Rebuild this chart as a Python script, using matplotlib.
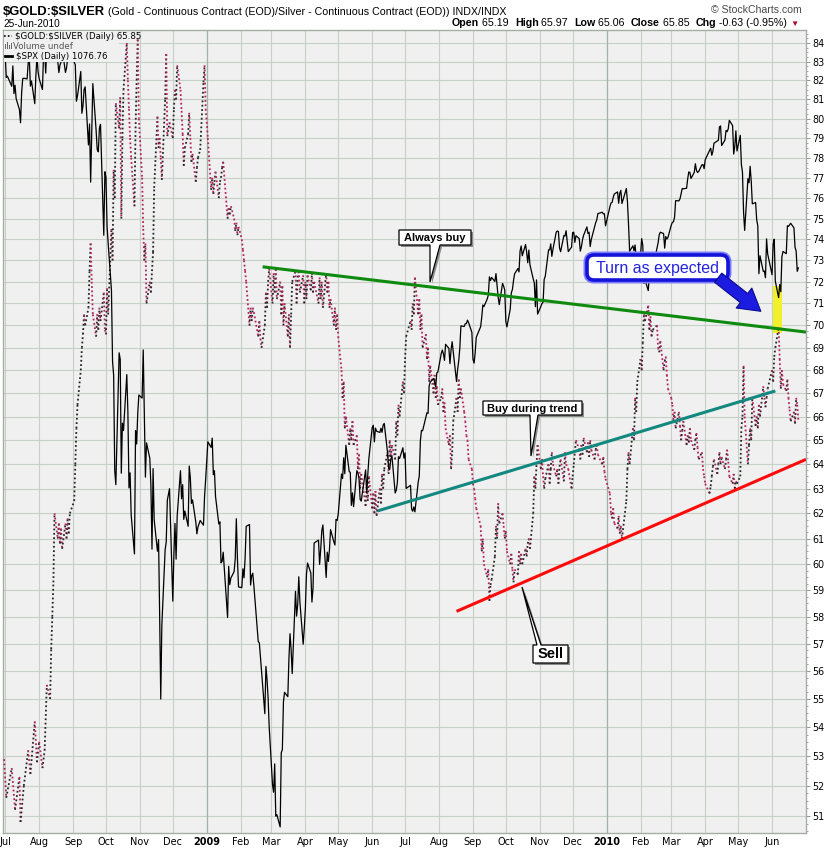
import matplotlib
matplotlib.use("Agg")
import matplotlib.pyplot as plt
import matplotlib.dates as mdates
import numpy as np
import pandas as pd
from matplotlib.collections import LineCollection
from matplotlib.patches import Polygon, Rectangle, FancyBboxPatch, FancyArrowPatch
from matplotlib.lines import Line2D
from matplotlib.ticker import FixedLocator, NullFormatter, FuncFormatter
from matplotlib.transforms import Affine2D

plt.rcParams["text.parse_math"] = False

W, H = 825, 848

# $GOLD:$SILVER close, (month-day, value)
ratio_2008 = [
    ("06-30", 52.9), ("07-02", 51.6), ("07-07", 52.6), ("07-10", 51.2), ("07-14", 52.3), ("07-15", 50.8),
    ("07-18", 52.0), ("07-22", 53.2), ("07-24", 52.4), ("07-28", 54.2), ("07-30", 52.8), ("08-01", 53.5),
    ("08-04", 52.6), ("08-06", 53.2), ("08-08", 55.5), ("08-11", 55.0), ("08-12", 56.8), ("08-13", 58.0),
    ("08-14", 59.3), ("08-15", 62.0), ("08-18", 61.0), ("08-19", 61.6), ("08-20", 60.8), ("08-21", 61.4),
    ("08-22", 60.6), ("08-25", 61.6), ("08-26", 61.0), ("08-27", 61.8), ("08-28", 61.2), ("08-29", 62.0),
    ("09-02", 62.5), ("09-03", 64.0), ("09-04", 65.5), ("09-05", 66.5), ("09-08", 68.0), ("09-09", 69.0),
    ("09-10", 69.6), ("09-11", 70.5), ("09-12", 70.0), ("09-15", 70.8), ("09-16", 72.5), ("09-17", 73.8),
    ("09-18", 72.0), ("09-19", 70.5), ("09-22", 69.5), ("09-23", 70.5), ("09-24", 69.8), ("09-25", 70.8),
    ("09-26", 70.2), ("09-29", 71.5), ("09-30", 69.8), ("10-01", 69.6), ("10-02", 71.7), ("10-03", 70.5),
    ("10-06", 74.5), ("10-07", 73.0), ("10-08", 77.4), ("10-09", 76.0), ("10-10", 80.8), ("10-13", 79.5),
    ("10-14", 81.1), ("10-15", 75.0), ("10-16", 79.0), ("10-17", 81.5), ("10-20", 84.0), ("10-21", 82.0),
    ("10-22", 80.5), ("10-23", 79.0), ("10-24", 78.0), ("10-27", 75.6), ("10-28", 79.5), ("10-29", 82.0),
    ("10-30", 84.2), ("10-31", 80.0), ("11-03", 77.0), ("11-04", 74.5), ("11-05", 73.0), ("11-06", 73.8),
    ("11-07", 71.0), ("11-10", 72.0), ("11-11", 71.5), ("11-12", 72.5), ("11-13", 73.4), ("11-14", 76.5),
    ("11-17", 80.1), ("11-18", 78.5), ("11-19", 79.0), ("11-20", 78.0), ("11-21", 76.9), ("11-24", 81.0),
    ("11-25", 83.4), ("11-26", 79.1), ("11-28", 79.8), ("12-01", 79.0), ("12-02", 80.5), ("12-03", 81.5),
    ("12-04", 81.0), ("12-05", 82.8), ("12-08", 81.5), ("12-09", 80.4), ("12-10", 79.2), ("12-11", 77.6),
    ("12-12", 78.5), ("12-15", 79.2), ("12-16", 80.3), ("12-17", 79.0), ("12-18", 77.8), ("12-19", 78.2),
    ("12-22", 76.8), ("12-23", 77.5), ("12-24", 78.0), ("12-26", 78.4), ("12-29", 81.9), ("12-30", 82.8),
    ("12-31", 80.5),
]
ratio_2009 = [
    ("01-02", 79.0), ("01-05", 76.4), ("01-06", 77.0), ("01-07", 76.2), ("01-08", 76.8), ("01-09", 77.3),
    ("01-12", 76.0), ("01-13", 76.8), ("01-14", 77.0), ("01-15", 77.5), ("01-16", 77.8), ("01-20", 75.0),
    ("01-21", 75.5), ("01-22", 75.2), ("01-23", 75.6), ("01-26", 75.0), ("01-27", 74.4), ("01-28", 74.8),
    ("01-29", 74.2), ("01-30", 74.6), ("02-02", 74.0), ("02-03", 73.5), ("02-04", 73.0), ("02-05", 72.5),
    ("02-06", 72.0), ("02-09", 70.0), ("02-10", 70.8), ("02-11", 70.2), ("02-12", 70.8), ("02-13", 70.6),
    ("02-17", 69.5), ("02-18", 70.2), ("02-19", 69.4), ("02-20", 69.0), ("02-23", 70.0), ("02-24", 71.5),
    ("02-25", 70.8), ("02-26", 72.0), ("02-27", 72.6), ("03-02", 71.0), ("03-03", 72.4), ("03-04", 71.5),
    ("03-05", 72.6), ("03-06", 71.2), ("03-09", 72.0), ("03-10", 70.5), ("03-11", 71.8), ("03-12", 70.0),
    ("03-13", 71.0), ("03-16", 69.5), ("03-17", 70.5), ("03-18", 69.0), ("03-19", 70.5), ("03-20", 72.0),
    ("03-23", 72.5), ("03-24", 71.0), ("03-25", 72.2), ("03-26", 72.5), ("03-27", 71.5), ("03-30", 72.3),
    ("03-31", 71.0), ("04-01", 72.0), ("04-02", 71.2), ("04-03", 72.3), ("04-06", 71.6), ("04-07", 72.4),
    ("04-08", 71.5), ("04-09", 72.0), ("04-13", 71.0), ("04-14", 72.2), ("04-15", 71.2), ("04-16", 72.0),
    ("04-17", 70.8), ("04-20", 72.4), ("04-21", 71.5), ("04-22", 72.0), ("04-23", 70.8), ("04-24", 71.2),
    ("04-27", 70.0), ("04-28", 70.8), ("04-29", 69.8), ("04-30", 70.5), ("05-01", 69.5), ("05-04", 68.0),
    ("05-05", 66.8), ("05-06", 67.5), ("05-07", 65.5), ("05-08", 66.0), ("05-11", 64.8), ("05-12", 65.5),
    ("05-13", 65.0), ("05-14", 65.8), ("05-15", 64.8), ("05-18", 65.2), ("05-19", 63.8), ("05-20", 64.4),
    ("05-21", 63.0), ("05-22", 63.6), ("05-26", 62.3), ("05-27", 63.2), ("05-28", 62.5), ("05-29", 63.5),
    ("06-01", 62.2), ("06-02", 62.8), ("06-03", 62.0), ("06-04", 62.9), ("06-05", 61.9), ("06-08", 63.0),
    ("06-09", 62.4), ("06-10", 63.6), ("06-11", 63.0), ("06-12", 63.8), ("06-15", 64.5), ("06-16", 63.6),
    ("06-17", 65.0), ("06-18", 64.3), ("06-19", 64.8), ("06-22", 64.2), ("06-23", 65.8), ("06-24", 65.2),
    ("06-25", 66.5), ("06-26", 66.0), ("06-29", 67.5), ("06-30", 67.0), ("07-01", 68.5), ("07-02", 69.5),
    ("07-06", 70.2), ("07-07", 69.8), ("07-08", 71.0), ("07-09", 70.5), ("07-10", 72.2), ("07-13", 70.5),
    ("07-14", 71.2), ("07-15", 69.8), ("07-16", 70.5), ("07-17", 69.0), ("07-20", 69.6), ("07-21", 68.5),
    ("07-22", 69.0), ("07-23", 67.5), ("07-24", 68.2), ("07-27", 67.0), ("07-28", 67.8), ("07-29", 66.8),
    ("07-30", 67.3), ("07-31", 66.5), ("08-03", 66.8), ("08-04", 67.2), ("08-05", 66.2), ("08-06", 66.6),
    ("08-07", 65.5), ("08-10", 64.8), ("08-11", 65.2), ("08-12", 63.8), ("08-13", 64.5), ("08-14", 65.8),
    ("08-17", 66.8), ("08-18", 66.2), ("08-19", 67.6), ("08-20", 66.8), ("08-21", 67.2), ("08-24", 66.2),
    ("08-25", 65.8), ("08-26", 65.2), ("08-27", 65.0), ("08-28", 64.2), ("08-31", 63.8), ("09-01", 63.2),
    ("09-02", 63.0), ("09-03", 62.6), ("09-04", 62.2), ("09-08", 61.5), ("09-09", 60.5), ("09-10", 61.0),
    ("09-11", 60.0), ("09-14", 59.5), ("09-15", 59.8), ("09-16", 58.6), ("09-17", 59.2), ("09-18", 59.4),
    ("09-21", 60.3), ("09-22", 61.5), ("09-23", 61.0), ("09-24", 62.4), ("09-25", 61.6), ("09-28", 62.0),
    ("09-29", 61.5), ("09-30", 61.0), ("10-01", 61.3), ("10-02", 60.5), ("10-05", 60.0), ("10-06", 60.4),
    ("10-07", 59.8), ("10-08", 59.3), ("10-09", 59.8), ("10-12", 59.6), ("10-13", 60.5), ("10-14", 60.0),
    ("10-15", 60.4), ("10-16", 60.0), ("10-19", 60.6), ("10-20", 60.3), ("10-21", 60.8), ("10-22", 61.0),
    ("10-23", 60.6), ("10-26", 62.0), ("10-27", 63.5), ("10-28", 63.0), ("10-29", 64.0), ("10-30", 64.8),
    ("11-02", 63.8), ("11-03", 64.2), ("11-04", 63.5), ("11-05", 63.0), ("11-06", 63.4), ("11-09", 64.0),
    ("11-10", 63.2), ("11-11", 63.8), ("11-12", 64.5), ("11-13", 64.0), ("11-16", 63.5), ("11-17", 63.8),
    ("11-18", 63.2), ("11-19", 63.9), ("11-20", 64.2), ("11-23", 63.3), ("11-24", 64.5), ("11-25", 64.0),
    ("11-27", 63.8), ("11-30", 63.0), ("12-01", 63.5), ("12-02", 64.0), ("12-03", 64.5), ("12-04", 65.0),
    ("12-07", 64.6), ("12-08", 64.2), ("12-09", 64.8), ("12-10", 64.4), ("12-11", 65.1), ("12-14", 64.5),
    ("12-15", 64.9), ("12-16", 64.3), ("12-17", 65.0), ("12-18", 64.6), ("12-21", 64.2), ("12-22", 64.6),
    ("12-23", 64.8), ("12-24", 64.4), ("12-28", 64.0), ("12-29", 64.3), ("12-30", 63.7), ("12-31", 63.4),
]
ratio_2010 = [
    ("01-04", 62.8), ("01-05", 62.0), ("01-06", 61.8), ("01-07", 62.2), ("01-08", 61.6), ("01-11", 61.4),
    ("01-12", 61.9), ("01-13", 61.2), ("01-14", 61.5), ("01-15", 61.0), ("01-19", 62.5), ("01-20", 63.8),
    ("01-21", 64.5), ("01-22", 64.0), ("01-25", 65.5), ("01-26", 65.0), ("01-27", 66.8), ("01-28", 66.2),
    ("01-29", 67.5), ("02-01", 68.5), ("02-02", 68.0), ("02-03", 69.2), ("02-04", 70.5), ("02-05", 70.2),
    ("02-08", 70.9), ("02-09", 69.8), ("02-10", 70.4), ("02-11", 69.5), ("02-12", 69.8), ("02-16", 70.0),
    ("02-17", 69.0), ("02-18", 68.8), ("02-19", 69.3), ("02-22", 68.0), ("02-23", 68.4), ("02-24", 68.6),
    ("02-25", 67.8), ("02-26", 67.2), ("03-01", 66.8), ("03-02", 66.5), ("03-03", 65.8), ("03-04", 66.2),
    ("03-05", 65.5), ("03-08", 66.2), ("03-09", 65.6), ("03-10", 65.0), ("03-11", 65.4), ("03-12", 65.8),
    ("03-15", 64.8), ("03-16", 65.2), ("03-17", 64.9), ("03-18", 65.5), ("03-19", 65.0), ("03-22", 64.6),
    ("03-23", 65.0), ("03-24", 65.3), ("03-25", 64.7), ("03-26", 64.2), ("03-29", 64.5), ("03-30", 63.8),
    ("03-31", 63.5), ("04-01", 63.2), ("04-05", 62.8), ("04-06", 63.1), ("04-07", 63.5), ("04-08", 63.9),
    ("04-09", 64.2), ("04-12", 63.6), ("04-13", 64.0), ("04-14", 64.5), ("04-15", 64.0), ("04-16", 64.3),
    ("04-19", 63.8), ("04-20", 64.2), ("04-21", 64.6), ("04-22", 64.1), ("04-23", 63.5), ("04-26", 63.2),
    ("04-27", 63.6), ("04-28", 63.0), ("04-29", 63.3), ("04-30", 63.2), ("05-03", 63.5), ("05-04", 65.5),
    ("05-05", 66.0), ("05-06", 68.2), ("05-07", 66.0), ("05-10", 64.0), ("05-11", 64.8), ("05-12", 65.5),
    ("05-13", 65.0), ("05-14", 66.8), ("05-17", 65.6), ("05-18", 66.0), ("05-19", 65.5), ("05-20", 66.5),
    ("05-21", 66.0), ("05-24", 67.3), ("05-25", 66.8), ("05-26", 66.4), ("05-27", 66.8), ("05-28", 67.2),
    ("06-01", 68.0), ("06-02", 67.5), ("06-03", 68.6), ("06-04", 69.0), ("06-07", 69.9), ("06-08", 68.5),
    ("06-09", 67.2), ("06-10", 68.0), ("06-11", 67.4), ("06-14", 67.1), ("06-15", 67.6), ("06-16", 66.8),
    ("06-17", 66.3), ("06-18", 65.8), ("06-21", 66.2), ("06-22", 65.7), ("06-23", 66.8), ("06-24", 66.5),
    ("06-25", 65.85),
]

# $SPX daily close, overlaid on its own (hidden) log scale
spx_2008 = [
    ("07-01", 1284.9), ("07-02", 1261.5), ("07-03", 1262.9), ("07-07", 1252.3), ("07-08", 1273.7), ("07-09", 1244.7),
    ("07-10", 1253.4), ("07-11", 1239.5), ("07-14", 1228.3), ("07-15", 1214.9), ("07-16", 1245.4), ("07-17", 1260.3),
    ("07-18", 1260.7), ("07-21", 1260.0), ("07-22", 1277.0), ("07-23", 1282.2), ("07-24", 1252.5), ("07-25", 1257.8),
    ("07-28", 1234.4), ("07-29", 1263.2), ("07-30", 1284.3), ("07-31", 1267.4), ("08-01", 1260.3), ("08-04", 1249.0),
    ("08-05", 1284.9), ("08-06", 1289.2), ("08-07", 1266.1), ("08-08", 1296.3), ("08-11", 1305.3), ("08-12", 1289.6),
    ("08-13", 1285.8), ("08-14", 1292.9), ("08-15", 1298.2), ("08-18", 1278.6), ("08-19", 1266.7), ("08-20", 1274.5),
    ("08-21", 1277.7), ("08-22", 1292.2), ("08-25", 1266.8), ("08-26", 1271.5), ("08-27", 1281.7), ("08-28", 1300.7),
    ("08-29", 1282.8), ("09-02", 1277.6), ("09-03", 1275.0), ("09-04", 1236.8), ("09-05", 1242.3), ("09-08", 1267.8),
    ("09-09", 1224.5), ("09-10", 1232.0), ("09-11", 1249.0), ("09-12", 1251.7), ("09-15", 1192.7), ("09-16", 1213.6),
    ("09-17", 1156.4), ("09-18", 1206.5), ("09-19", 1255.1), ("09-22", 1207.1), ("09-23", 1188.2), ("09-24", 1185.9),
    ("09-25", 1209.2), ("09-26", 1213.3), ("09-29", 1106.4), ("09-30", 1166.4), ("10-01", 1161.1), ("10-02", 1114.3),
    ("10-03", 1099.2), ("10-06", 1056.9), ("10-07", 996.2), ("10-08", 984.9), ("10-09", 909.9), ("10-10", 899.2),
    ("10-13", 1003.4), ("10-14", 998.0), ("10-15", 907.8), ("10-16", 946.4), ("10-17", 940.6), ("10-20", 985.4),
    ("10-21", 955.1), ("10-22", 896.8), ("10-23", 908.1), ("10-24", 876.8), ("10-27", 848.9), ("10-28", 940.5),
    ("10-29", 930.1), ("10-30", 954.1), ("10-31", 968.8), ("11-03", 966.3), ("11-04", 1005.8), ("11-05", 952.8),
    ("11-06", 904.9), ("11-07", 931.0), ("11-10", 919.2), ("11-11", 899.0), ("11-12", 852.3), ("11-13", 911.3),
    ("11-14", 873.3), ("11-17", 850.8), ("11-18", 859.1), ("11-19", 806.6), ("11-20", 752.4), ("11-21", 800.0),
    ("11-24", 851.8), ("11-25", 857.4), ("11-26", 887.7), ("11-28", 896.2), ("12-01", 816.2), ("12-02", 848.8),
    ("12-03", 870.7), ("12-04", 845.2), ("12-05", 876.1), ("12-08", 909.7), ("12-09", 888.7), ("12-10", 899.2),
    ("12-11", 873.6), ("12-12", 879.7), ("12-15", 868.6), ("12-16", 913.2), ("12-17", 904.4), ("12-18", 885.3),
    ("12-19", 887.9), ("12-22", 871.6), ("12-23", 863.2), ("12-24", 868.2), ("12-26", 872.8), ("12-29", 869.4),
    ("12-30", 890.6), ("12-31", 903.3),
]
spx_2009 = [
    ("01-02", 931.8), ("01-05", 927.5), ("01-06", 934.7), ("01-07", 906.7), ("01-08", 909.7), ("01-09", 890.4),
    ("01-12", 870.3), ("01-13", 871.8), ("01-14", 842.6), ("01-15", 843.7), ("01-16", 850.1), ("01-20", 805.2),
    ("01-21", 840.2), ("01-22", 827.5), ("01-23", 832.0), ("01-26", 836.6), ("01-27", 845.7), ("01-28", 874.1),
    ("01-29", 845.1), ("01-30", 825.9), ("02-02", 825.4), ("02-03", 838.5), ("02-04", 832.2), ("02-05", 845.9),
    ("02-06", 868.6), ("02-09", 869.9), ("02-10", 827.2), ("02-11", 833.7), ("02-12", 835.4), ("02-13", 826.8),
    ("02-17", 789.2), ("02-18", 788.4), ("02-19", 778.9), ("02-20", 770.1), ("02-23", 743.3), ("02-24", 773.1),
    ("02-25", 764.9), ("02-26", 752.8), ("02-27", 735.1), ("03-02", 700.8), ("03-03", 696.3), ("03-04", 712.9),
    ("03-05", 682.6), ("03-06", 683.4), ("03-09", 676.5), ("03-10", 719.6), ("03-11", 721.4), ("03-12", 750.7),
    ("03-13", 756.6), ("03-16", 753.9), ("03-17", 778.1), ("03-18", 794.4), ("03-19", 784.0), ("03-20", 768.5),
    ("03-23", 822.9), ("03-24", 806.1), ("03-25", 813.9), ("03-26", 832.9), ("03-27", 815.9), ("03-30", 787.5),
    ("03-31", 797.9), ("04-01", 811.1), ("04-02", 834.4), ("04-03", 842.5), ("04-06", 835.5), ("04-07", 815.6),
    ("04-08", 825.2), ("04-09", 856.6), ("04-13", 858.7), ("04-14", 841.5), ("04-15", 852.1), ("04-16", 865.3),
    ("04-17", 869.6), ("04-20", 832.4), ("04-21", 850.1), ("04-22", 843.6), ("04-23", 851.9), ("04-24", 866.2),
    ("04-27", 857.5), ("04-28", 855.2), ("04-29", 873.6), ("04-30", 872.8), ("05-01", 877.5), ("05-04", 907.2),
    ("05-05", 903.8), ("05-06", 919.5), ("05-07", 907.4), ("05-08", 929.2), ("05-11", 909.2), ("05-12", 908.4),
    ("05-13", 883.9), ("05-14", 893.1), ("05-15", 882.9), ("05-18", 909.7), ("05-19", 908.1), ("05-20", 903.5),
    ("05-21", 888.3), ("05-22", 887.0), ("05-26", 910.3), ("05-27", 893.1), ("05-28", 906.8), ("05-29", 919.1),
    ("06-01", 942.9), ("06-02", 944.7), ("06-03", 931.8), ("06-04", 942.5), ("06-05", 940.1), ("06-08", 939.1),
    ("06-09", 942.4), ("06-10", 939.2), ("06-11", 944.9), ("06-12", 946.2), ("06-15", 923.7), ("06-16", 912.0),
    ("06-17", 910.7), ("06-18", 918.4), ("06-19", 921.2), ("06-22", 893.0), ("06-23", 895.1), ("06-24", 900.9),
    ("06-25", 920.3), ("06-26", 918.9), ("06-29", 927.2), ("06-30", 919.3), ("07-01", 923.3), ("07-02", 896.4),
    ("07-06", 898.7), ("07-07", 881.0), ("07-08", 879.6), ("07-09", 882.7), ("07-10", 879.1), ("07-13", 901.1),
    ("07-14", 905.8), ("07-15", 932.7), ("07-16", 940.7), ("07-17", 940.4), ("07-20", 951.1), ("07-21", 954.6),
    ("07-22", 954.1), ("07-23", 976.3), ("07-24", 979.3), ("07-27", 982.2), ("07-28", 979.6), ("07-29", 975.2),
    ("07-30", 986.8), ("07-31", 987.5), ("08-03", 1002.6), ("08-04", 1005.7), ("08-05", 1002.7), ("08-06", 997.1),
    ("08-07", 1010.5), ("08-10", 1007.1), ("08-11", 994.4), ("08-12", 1005.8), ("08-13", 1012.7), ("08-14", 1004.1),
    ("08-17", 979.7), ("08-18", 989.7), ("08-19", 996.5), ("08-20", 1007.4), ("08-21", 1026.1), ("08-24", 1025.6),
    ("08-25", 1028.0), ("08-26", 1028.1), ("08-27", 1031.0), ("08-28", 1028.9), ("08-31", 1020.6), ("09-01", 998.0),
    ("09-02", 994.8), ("09-03", 1003.2), ("09-04", 1016.4), ("09-08", 1025.4), ("09-09", 1033.4), ("09-10", 1044.1),
    ("09-11", 1042.7), ("09-14", 1049.3), ("09-15", 1052.6), ("09-16", 1068.8), ("09-17", 1065.5), ("09-18", 1068.3),
    ("09-21", 1064.7), ("09-22", 1071.7), ("09-23", 1060.9), ("09-24", 1050.8), ("09-25", 1044.4), ("09-28", 1063.0),
    ("09-29", 1060.6), ("09-30", 1057.1), ("10-01", 1029.9), ("10-02", 1025.2), ("10-05", 1040.5), ("10-06", 1054.7),
    ("10-07", 1057.6), ("10-08", 1065.5), ("10-09", 1071.5), ("10-12", 1076.2), ("10-13", 1073.2), ("10-14", 1092.0),
    ("10-15", 1096.6), ("10-16", 1087.7), ("10-19", 1097.9), ("10-20", 1091.1), ("10-21", 1081.4), ("10-22", 1092.9),
    ("10-23", 1079.6), ("10-26", 1067.0), ("10-27", 1063.4), ("10-28", 1042.6), ("10-29", 1066.1), ("10-30", 1036.2),
    ("11-02", 1042.9), ("11-03", 1045.4), ("11-04", 1046.5), ("11-05", 1066.6), ("11-06", 1069.3), ("11-09", 1093.1),
    ("11-10", 1093.0), ("11-11", 1098.5), ("11-12", 1087.2), ("11-13", 1093.5), ("11-16", 1109.3), ("11-17", 1110.3),
    ("11-18", 1109.8), ("11-19", 1094.9), ("11-20", 1091.4), ("11-23", 1106.2), ("11-24", 1105.7), ("11-25", 1110.6),
    ("11-27", 1091.5), ("11-30", 1095.6), ("12-01", 1108.9), ("12-02", 1109.2), ("12-03", 1099.9), ("12-04", 1106.0),
    ("12-07", 1103.3), ("12-08", 1091.9), ("12-09", 1096.0), ("12-10", 1102.4), ("12-11", 1106.4), ("12-14", 1114.1),
    ("12-15", 1107.9), ("12-16", 1109.2), ("12-17", 1096.1), ("12-18", 1102.5), ("12-21", 1114.1), ("12-22", 1118.0),
    ("12-23", 1120.6), ("12-24", 1126.5), ("12-28", 1127.8), ("12-29", 1126.2), ("12-30", 1126.4), ("12-31", 1115.1),
]
spx_2010 = [
    ("01-04", 1133.0), ("01-05", 1136.5), ("01-06", 1137.1), ("01-07", 1141.7), ("01-08", 1145.0), ("01-11", 1147.0),
    ("01-12", 1136.2), ("01-13", 1145.7), ("01-14", 1148.5), ("01-15", 1136.0), ("01-19", 1150.2), ("01-20", 1138.0),
    ("01-21", 1116.5), ("01-22", 1091.8), ("01-25", 1096.8), ("01-26", 1092.2), ("01-27", 1097.5), ("01-28", 1084.5),
    ("01-29", 1073.9), ("02-01", 1089.2), ("02-02", 1103.3), ("02-03", 1097.3), ("02-04", 1063.1), ("02-05", 1066.2),
    ("02-08", 1056.7), ("02-09", 1070.5), ("02-10", 1068.1), ("02-11", 1078.5), ("02-12", 1075.5), ("02-16", 1094.9),
    ("02-17", 1099.5), ("02-18", 1106.8), ("02-19", 1109.2), ("02-22", 1108.0), ("02-23", 1094.6), ("02-24", 1105.2),
    ("02-25", 1102.9), ("02-26", 1104.5), ("03-01", 1115.7), ("03-02", 1118.3), ("03-03", 1118.8), ("03-04", 1123.0),
    ("03-05", 1138.7), ("03-08", 1138.5), ("03-09", 1140.5), ("03-10", 1145.6), ("03-11", 1150.2), ("03-12", 1150.0),
    ("03-15", 1150.5), ("03-16", 1159.5), ("03-17", 1166.2), ("03-18", 1165.8), ("03-19", 1159.9), ("03-22", 1165.8),
    ("03-23", 1174.2), ("03-24", 1167.7), ("03-25", 1165.7), ("03-26", 1166.6), ("03-29", 1173.2), ("03-30", 1173.3),
    ("03-31", 1169.4), ("04-01", 1178.1), ("04-05", 1187.4), ("04-06", 1189.4), ("04-07", 1182.5), ("04-08", 1186.4),
    ("04-09", 1194.4), ("04-12", 1196.5), ("04-13", 1197.3), ("04-14", 1210.7), ("04-15", 1211.7), ("04-16", 1192.1),
    ("04-19", 1197.5), ("04-20", 1207.2), ("04-21", 1205.9), ("04-22", 1208.7), ("04-23", 1217.3), ("04-26", 1212.1),
    ("04-27", 1183.7), ("04-28", 1191.4), ("04-29", 1206.8), ("04-30", 1186.7), ("05-03", 1202.3), ("05-04", 1173.6),
    ("05-05", 1165.9), ("05-06", 1128.2), ("05-07", 1110.9), ("05-10", 1159.7), ("05-11", 1155.8), ("05-12", 1171.7),
    ("05-13", 1157.4), ("05-14", 1135.7), ("05-17", 1136.9), ("05-18", 1120.8), ("05-19", 1115.1), ("05-20", 1071.6),
    ("05-21", 1087.7), ("05-24", 1073.7), ("05-25", 1074.0), ("05-26", 1068.0), ("05-27", 1103.1), ("05-28", 1089.4),
    ("06-01", 1070.7), ("06-02", 1098.4), ("06-03", 1102.8), ("06-04", 1064.9), ("06-07", 1050.5), ("06-08", 1062.0),
    ("06-09", 1055.7), ("06-10", 1086.8), ("06-11", 1091.6), ("06-14", 1089.6), ("06-15", 1115.2), ("06-16", 1114.6),
    ("06-17", 1116.0), ("06-18", 1117.5), ("06-21", 1113.2), ("06-22", 1095.3), ("06-23", 1092.0), ("06-24", 1073.7),
    ("06-25", 1076.8),
]

ratio_ticks = list(range(51, 85))
month_labels = ["Jul", "Aug", "Sep", "Oct", "Nov", "Dec", "2009", "Feb", "Mar", "Apr", "May", "Jun",
                "Jul", "Aug", "Sep", "Oct", "Nov", "Dec", "2010", "Feb", "Mar", "Apr", "May", "Jun"]

# hand-drawn trend lines on the ratio: (start date, value, end date, value)
trend_always_buy = ("2009-02-21", 72.7, "2010-07-02", 69.7)
trend_buy_during = ("2009-06-06", 62.1, "2010-06-04", 67.1)
trend_sell = ("2009-08-17", 58.2, "2010-07-02", 64.2)
# yellow highlight: (start, end, low, high)
highlight = ("2010-06-02", "2010-06-10", 69.65, 71.8)


def to_series(*years):
    dates, vals = [], []
    for year, rows in years:
        for md, v in rows:
            dates.append(pd.Timestamp(f"{year}-{md}"))
            vals.append(v)
    return dates, np.array(vals)


ratio_dates, ratio_vals = to_series((2008, ratio_2008), (2009, ratio_2009), (2010, ratio_2010))
spx_dates, spx_vals = to_series((2008, spx_2008), (2009, spx_2009), (2010, spx_2010))
month_starts = pd.date_range("2008-07-01", "2010-06-01", freq="MS")

fig = plt.figure(figsize=(W / 100, H / 100), dpi=100)
fig.patch.set_facecolor("white")
pix = Affine2D().scale(1 / W, -1 / H).translate(0, 1) + fig.transFigure
renderer = fig.canvas.get_renderer()

ax = fig.add_axes([3 / W, 1 - 833 / H, 803 / W, 803 / H])
ax2 = ax.twinx()
ax.set_facecolor("#f0f0f0")
ax.set_yscale("log")
ax.set_axisbelow(True)

# grid
ax.yaxis.set_major_locator(FixedLocator(ratio_ticks))
ax.yaxis.set_major_formatter(FuncFormatter(lambda v, _: f"{v:.0f}"))
ax.yaxis.set_minor_locator(FixedLocator(np.arange(50.5, 85, 0.25)))
ax.yaxis.set_minor_formatter(NullFormatter())
ax.yaxis.tick_right()
ax.set_xticks(month_starts)
ax.set_xticklabels(month_labels)
ax.grid(True, which="major", color="#c6d0c6", lw=0.8)
for d in ["2009-01-01", "2010-01-01"]:
    ax.axvline(pd.Timestamp(d), color="#a3b3a3", lw=0.9, zorder=0.6)

ax.tick_params(axis="y", which="major", length=3, width=0.7, color="#8e988e", pad=1.5,
               labelsize=6.9, labelcolor="black")
ax.tick_params(axis="y", which="minor", length=1.3, width=0.6, color="#8e988e")
ax.tick_params(axis="x", length=0, pad=3, labelsize=7)
for lbl in ax.get_xticklabels():
    if lbl.get_text().startswith("20"):
        lbl.set_fontweight("bold")
for s in ax.spines.values():
    s.set_color("#a4aea4")
    s.set_linewidth(1.0)

# yellow highlight
h0, h1 = mdates.date2num(pd.Timestamp(highlight[0])), mdates.date2num(pd.Timestamp(highlight[1]))
ax.add_patch(Rectangle((h0, highlight[2]), h1 - h0, highlight[3] - highlight[2],
                       facecolor="#f2f02a", edgecolor="none", zorder=1))

# ratio: dotted, black on up moves, crimson on down moves
rx = mdates.date2num(ratio_dates)
pts = np.column_stack([rx, ratio_vals])
segs = np.stack([pts[:-1], pts[1:]], axis=1)
cols = ["#262626" if b >= a else "#b5235d" for a, b in zip(ratio_vals[:-1], ratio_vals[1:])]
ax.add_collection(LineCollection(segs, colors=cols, linewidths=1.3,
                                 linestyles=[(0, (1, 1.4))], zorder=3))

# SPX on its own log scale
ax2.plot(spx_dates, spx_vals, color="black", lw=0.9, zorder=4)
ax2.set_yscale("log")
ax2.set_yticks([])
ax2.yaxis.set_minor_locator(FixedLocator([]))
for s in ax2.spines.values():
    s.set_visible(False)

# trend lines (drawn over everything in ratio coordinates)
for (d0, v0, d1, v1), color in [(trend_always_buy, "#0e8a0e"), (trend_buy_during, "#12887e"),
                                (trend_sell, "#ff0a0a")]:
    ax2.plot([pd.Timestamp(d0), pd.Timestamp(d1)], [v0, v1], transform=ax.transData,
             color=color, lw=2.2, solid_capstyle="butt", zorder=6)

ax.set_ylim(50.44, 84.71)
ax.set_xlim(pd.Timestamp("2008-06-29"), pd.Timestamp("2010-07-02"))
ax2.set_ylim(673.1, 1312.3)
ax2.set_xlim(ax.get_xlim())

# legend block (opaque, top-left inside the plot)
fig.add_artist(Rectangle((3.5, 31), 115, 31, transform=pix, facecolor="#f0f0f0", edgecolor="none", zorder=15))
fig.add_artist(Line2D([4, 12], [36, 36], transform=pix, color="black", lw=1.2, ls=(0, (1, 1.3)), zorder=16))
for bx, bh in [(5, 5), (7, 7), (9, 4), (11, 6)]:
    fig.add_artist(Rectangle((bx, 49 - bh), 1.3, bh, transform=pix, facecolor="#6a6a6a", edgecolor="none", zorder=16))
fig.add_artist(Line2D([5, 12], [56, 56], transform=pix, color="black", lw=2.0, zorder=16))
leg_font = dict(transform=pix, fontsize=6.2, family="DejaVu Sans", va="baseline", zorder=16)
fig.text(15, 39, "$GOLD:$SILVER (Daily) 65.85", color="black", **leg_font)
fig.text(13, 49, "Volume undef", color="#555555", **leg_font)
fig.text(16, 59, "$SPX (Daily) 1076.76", color="black", **leg_font)

# header
title = fig.text(3, 15, "$GOLD:$SILVER", transform=pix, fontsize=9.4, fontweight="bold",
                 family="Liberation Sans", va="baseline")
tx = 3 + title.get_window_extent(renderer).width + 3
fig.text(tx, 15, "(Gold - Continuous Contract (EOD)/Silver - Continuous Contract (EOD)) INDX/INDX",
         transform=pix, fontsize=7.7, family="Liberation Sans", va="baseline")
fig.text(3, 27, "25-Jun-2010", transform=pix, fontsize=7.2, family="Liberation Sans", va="baseline")
fig.text(802, 13, "\u00a9 StockCharts.com", transform=pix, fontsize=7.6, family="Liberation Sans",
         color="#4a4a4a", ha="right", va="baseline")

hx = 452
for s, weight, color in [("Open", "bold", "black"), (" 65.19  ", "normal", "black"),
                         ("High", "bold", "black"), (" 65.97  ", "normal", "black"),
                         ("Low", "bold", "black"), (" 65.06  ", "normal", "black"),
                         ("Close", "bold", "black"), (" 65.85  ", "normal", "black"),
                         ("Chg", "bold", "black"), (" -0.63 (-0.95%) ", "normal", "black"),
                         ("\u25bc", "normal", "#a0102a")]:
    t = fig.text(hx, 26, s, transform=pix, fontsize=7.7 if s != "\u25bc" else 6,
                 fontweight=weight, color=color, family=["Liberation Sans", "DejaVu Sans"], va="baseline")
    hx += t.get_window_extent(renderer).width


# callouts (white boxes with pointer and grey drop shadow)
def callout(poly, text, tx, ty, size):
    shadow = [(x + 2, y + 2) for x, y in poly]
    fig.add_artist(Polygon(shadow, closed=True, transform=pix, facecolor="#8a8a8a",
                           edgecolor="none", zorder=20))
    fig.add_artist(Polygon(poly, closed=True, transform=pix, facecolor="white",
                           edgecolor="black", lw=0.9, zorder=21))
    fig.text(tx, ty, text, transform=pix, fontsize=size, fontweight="bold", family="Liberation Sans",
             ha="center", va="center", zorder=22)


callout([(399, 230), (471, 230), (471, 245), (440, 245), (430, 282), (430, 245), (399, 245)],
        "Always buy", 435, 238, 8)
callout([(483, 401), (582, 401), (582, 415), (538, 415), (531, 456), (530, 415), (483, 415)],
        "Buy during trend", 532.5, 408.5, 8)
callout([(533, 645), (537, 645), (522, 587), (541, 645), (568, 645), (568, 663), (533, 663)],
        "Sell", 550.5, 654.5, 10.5)

# "Turn as expected" bubble with a blue arrow
fig.add_artist(FancyBboxPatch((587, 255), 141, 25, boxstyle="round,pad=0,rounding_size=7",
                              transform=pix, facecolor="none", edgecolor="#7a7aff", lw=5, zorder=20))
fig.add_artist(FancyBboxPatch((587, 255), 141, 25, boxstyle="round,pad=0,rounding_size=7",
                              transform=pix, facecolor="white", edgecolor="#1414d8", lw=2.6, zorder=21))
fig.add_artist(FancyArrowPatch((716, 276), (763, 313), transform=pix,
                               arrowstyle="simple,head_width=1.3,head_length=1.1,tail_width=0.6",
                               mutation_scale=14, facecolor="#1c1ce0", edgecolor="#0a0a90", lw=0.8,
                               zorder=22))
fig.text(657.5, 268, "Turn as expected", transform=pix, fontsize=11.5, family="Liberation Sans",
         color="#2323dc", ha="center", va="center", zorder=23)

fig.savefig("out.png", dpi=100)
